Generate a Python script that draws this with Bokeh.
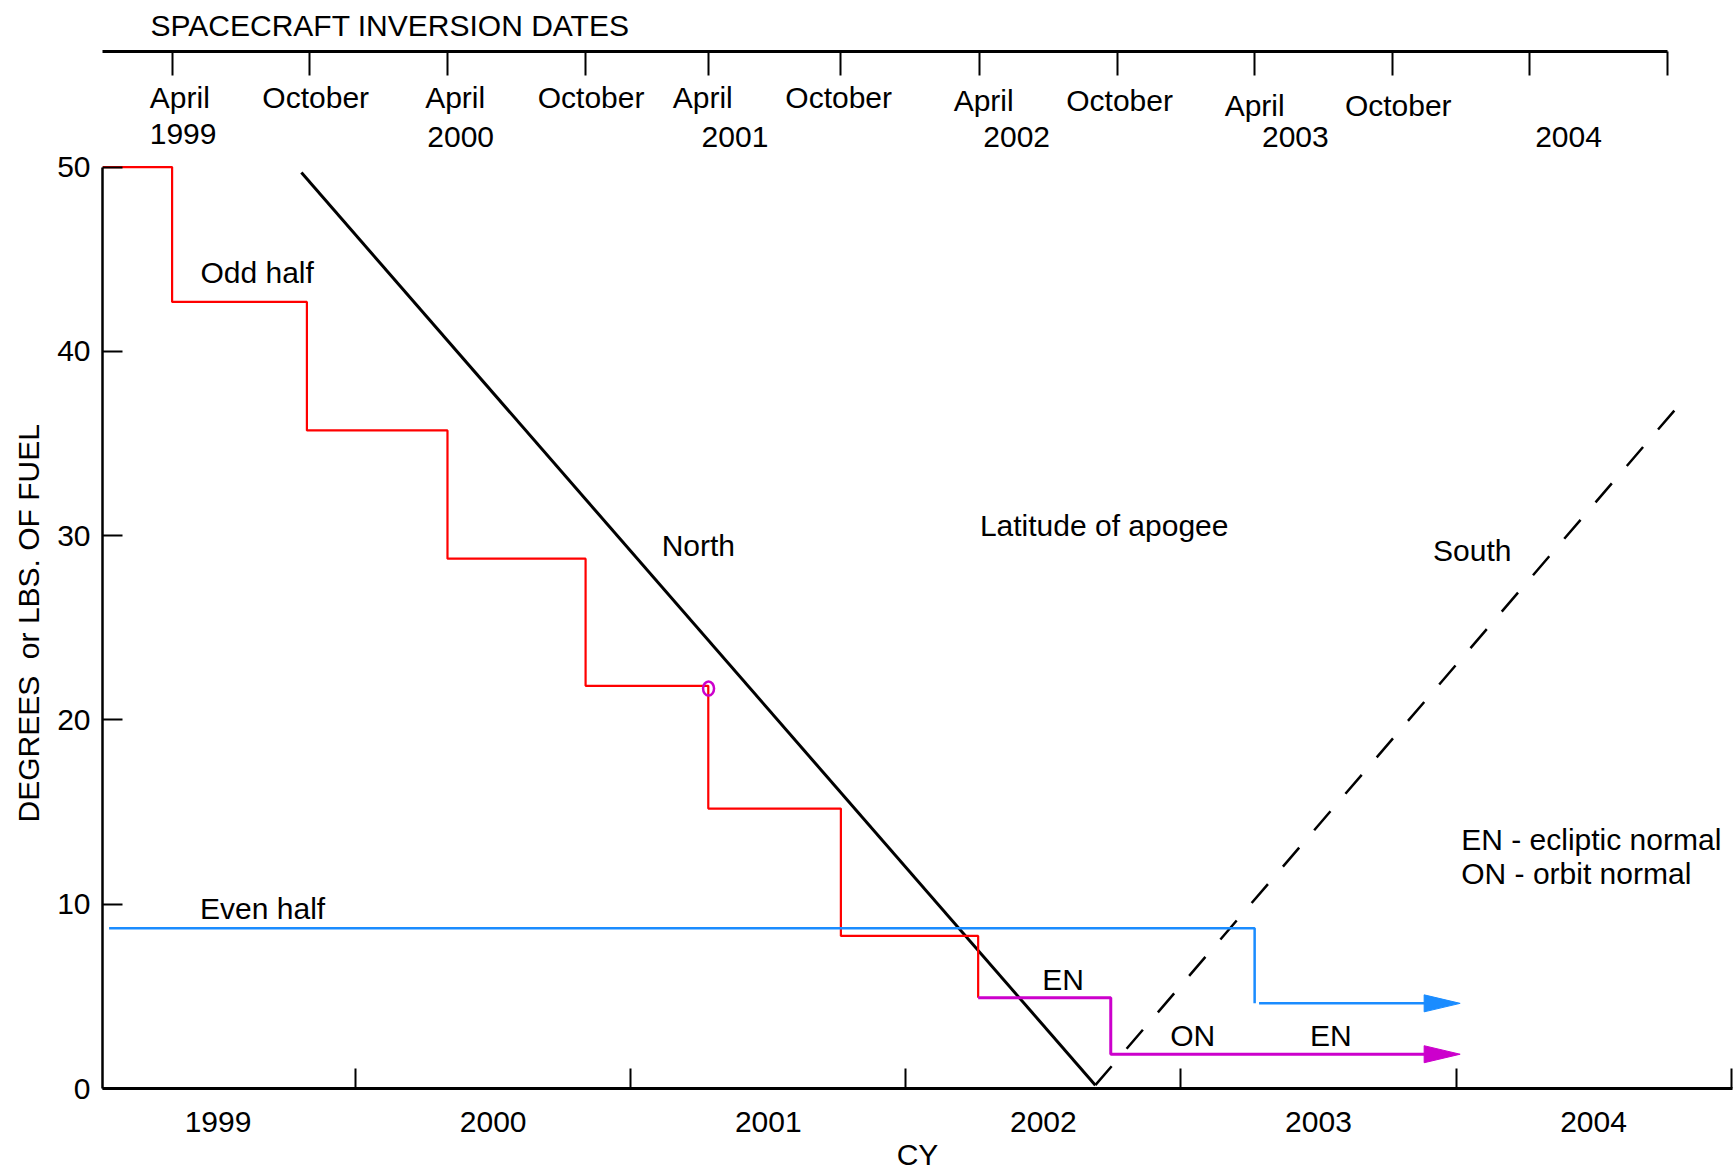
from bokeh.plotting import figure
from bokeh.models import Range1d, LinearAxis, FixedTicker, Title
from bokeh.core.properties import value
from bokeh.embed import file_html
from bokeh.resources import INLINE

FONT = "Liberation Sans"

# ---------------- data (decimal years / degrees or lbs) ----------------
inversion_dates = [1999.333, 1999.831, 2000.334, 2000.836, 2001.282, 2001.764,
                   2002.267, 2002.769, 2003.268, 2003.770, 2004.268, 2004.767]

odd_x = [1999.08, 1999.333, 1999.823, 2000.334, 2000.836, 2001.282, 2001.764, 2002.263]
odd_y = [50.0, 42.68, 35.71, 28.75, 21.85, 15.19, 8.28, 4.92]

odd_en_x = [2002.263, 2002.745, 2004.015]
odd_en_y = [4.92, 1.86, 1.86]

even_x = [1999.104, 2003.268, 2003.268]
even_y = [8.70, 8.70, 4.62]
even_after_x = [2003.284, 2004.015]
even_after_y = [4.62, 4.62]

north_x = [1999.803, 2002.689]
north_y = [49.70, 0.18]
south_x = [2002.689, 2004.811]
south_y = [0.18, 37.09]

marker_x = [2001.283]
marker_y = [21.70]

y_ticks = [0, 10, 20, 30, 40, 50]
year_ticks = [2000, 2001, 2002, 2003, 2004, 2005]
year_label_pos = [1999.5, 2000.5, 2001.5, 2002.5, 2003.5, 2004.5]
year_labels = ["1999", "2000", "2001", "2002", "2003", "2004"]

top_month_text = ["April", "October", "April", "October", "April", "October",
                  "April", "October", "April", "October"]
top_month_x = [1999.361, 1999.855, 2000.362, 2000.856, 2001.262, 2001.756,
               2002.283, 2002.777, 2003.268, 2003.790]
top_month_y = [53.78, 53.78, 53.78, 53.78, 53.78, 53.78, 53.60, 53.60, 53.36, 53.36]
top_year_text = ["1999", "2000", "2001", "2002", "2003", "2004"]
top_year_x = [1999.373, 2000.382, 2001.379, 2002.403, 2003.416, 2004.409]
top_year_y = [51.80, 51.62, 51.62, 51.62, 51.62, 51.62]

note_text = ["Odd half", "North", "Latitude of apogee", "South", "Even half", "EN", "ON", "EN"]
note_x = [1999.642, 2001.246, 2002.721, 2004.059, 1999.662, 2002.572, 2003.043, 2003.545]
note_y = [44.30, 29.47, 30.55, 29.17, 9.78, 5.94, 2.88, 2.88]

key_text = ["EN - ecliptic normal", "ON - orbit normal"]
key_x = [2004.019, 2004.019]
key_y = [13.51, 11.64]

# ---------------- layout ----------------
W, H = 1735, 1173
BL, BR, BT, BB = 102, 3, 51, 85
X0, X1 = 1999.08, 2005.005
Y0, Y1 = 0.0, 56.27
FW, FH = W - BL - BR, H - BT - BB
XPP = (X1 - X0) / FW   # data units per pixel
YPP = (Y1 - Y0) / FH

p = figure(width=W, height=H, x_range=Range1d(X0, X1), y_range=Range1d(Y0, Y1),
           x_axis_type=None, y_axis_type=None, toolbar_location=None,
           output_backend="svg", min_border_left=BL, min_border_right=BR,
           min_border_top=BT, min_border_bottom=BB, outline_line_color=None,
           background_fill_color="white", border_fill_color="white")

p.title = Title(text="SPACECRAFT INVERSION DATES", align="left", offset=48,
                vertical_align="top", standoff=16, text_font=FONT,
                text_font_size="30px", text_font_style="normal", text_color="black")

# left axis
left = LinearAxis(ticker=FixedTicker(ticks=y_ticks, minor_ticks=[]), bounds=(0, 50),
                  major_tick_in=20, major_tick_out=0, minor_tick_in=0, minor_tick_out=0,
                  major_tick_line_width=2, axis_line_width=2.5,
                  major_label_standoff=12, major_label_text_font=FONT,
                  major_label_text_font_size="30px", major_label_text_color="black")
p.add_layout(left, "left")
p.add_layout(Title(text="DEGREES\u00a0 or LBS. OF FUEL", align="left", offset=266,
                   vertical_align="middle", standoff=18, text_font=FONT,
                   text_font_size="30px", text_font_style="normal",
                   text_color="black"), "left")

# bottom axis: labels centred on years, tick marks at year boundaries
bottom = LinearAxis(ticker=FixedTicker(ticks=year_label_pos, minor_ticks=year_ticks),
                    major_label_overrides={k: v for k, v in zip(year_label_pos, year_labels)},
                    major_tick_in=0, major_tick_out=0, minor_tick_in=20, minor_tick_out=0,
                    minor_tick_line_width=2, axis_line_width=3,
                    major_label_standoff=23, major_label_text_font=FONT,
                    major_label_text_font_size="30px", major_label_text_color="black",
                    axis_label="CY", axis_label_standoff=3,
                    axis_label_text_font=FONT, axis_label_text_font_size="30px",
                    axis_label_text_font_style="normal", axis_label_text_color="black")
p.add_layout(bottom, "below")

# top axis: spacecraft inversion dates
top = LinearAxis(ticker=FixedTicker(ticks=inversion_dates, minor_ticks=[]),
                 bounds=(X0, inversion_dates[-1]),
                 major_label_overrides={k: "" for k in inversion_dates},
                 major_tick_in=24, major_tick_out=0, minor_tick_in=0, minor_tick_out=0,
                 major_tick_line_width=2, axis_line_width=3,
                 major_label_text_font_size="1px", major_label_standoff=0)
p.add_layout(top, "above")

# ---------------- lines ----------------
HEAD_L, HEAD_HW = 36, 8.5

p.line(north_x, north_y, line_color="black", line_width=3)
p.line(south_x, south_y, line_color="black", line_width=2.5, line_dash="25 23")

p.step(odd_x, odd_y, mode="after", line_color="#ff0000", line_width=2.2)

en_x = odd_en_x[:-1] + [odd_en_x[-1] - 0.5 * HEAD_L * XPP]
p.step(en_x, odd_en_y, mode="after", line_color="#cc00cc", line_width=3)

p.line(even_x, even_y, line_color="#1a8cff", line_width=2.5)
ea_x = even_after_x[:-1] + [even_after_x[-1] - 0.5 * HEAD_L * XPP]
p.line(ea_x, even_after_y, line_color="#1a8cff", line_width=2.5)

def head(tx, ty):
    return ([tx - HEAD_L * XPP, tx, tx - HEAD_L * XPP],
            [ty + HEAD_HW * YPP, ty, ty - HEAD_HW * YPP])

hx, hy = head(even_after_x[-1], even_after_y[-1])
p.patch(hx, hy, fill_color="#1a8cff", line_color="#1a8cff", line_width=1)
hx, hy = head(odd_en_x[-1], odd_en_y[-1])
p.patch(hx, hy, fill_color="#cc00cc", line_color="#cc00cc", line_width=1)

p.ellipse(marker_x, marker_y, width=11, height=14, width_units="screen",
          height_units="screen", fill_color=None, line_color="#cc00cc", line_width=2.5)

# ---------------- texts ----------------
txt = dict(text_font=value(FONT), text_font_size="30px", text_color="black",
           text_baseline="middle")
p.text(top_month_x, top_month_y, text=top_month_text, text_align="center", **txt)
p.text(top_year_x, top_year_y, text=top_year_text, text_align="center", **txt)
p.text(note_x, note_y, text=note_text, text_align="center", **txt)
p.text(key_x, key_y, text=key_text, text_align="left", **txt)

open("out.html", "w").write(file_html(p, INLINE))
